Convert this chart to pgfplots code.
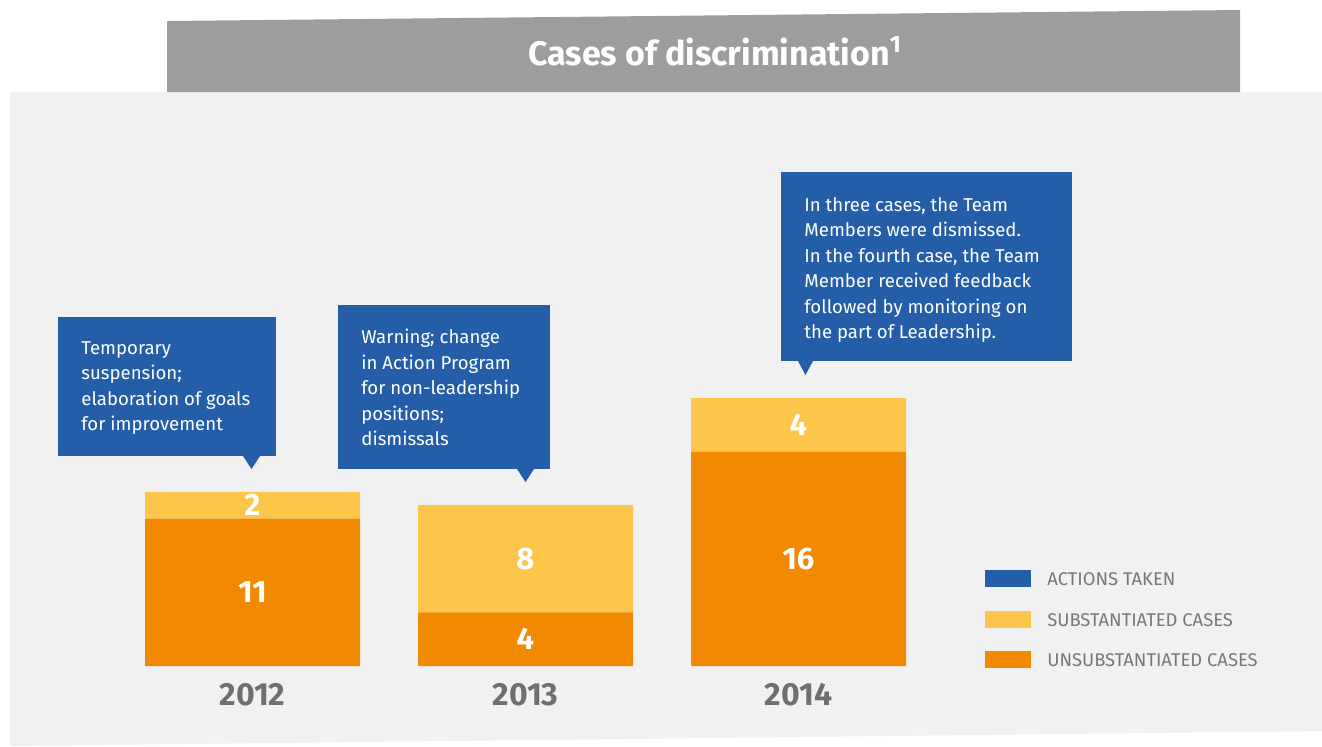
\documentclass[border=0pt]{standalone}
\usepackage{fontspec}
\setmainfont{Fira Sans}
\usepackage{pgfplots}
\pgfplotsset{compat=1.18}

\definecolor{actblue}{HTML}{245DA8}
\definecolor{subyel}{HTML}{FDC64A}
\definecolor{unsor}{HTML}{F18A00}
\definecolor{panel}{HTML}{F1F1F1}
\definecolor{titlegray}{HTML}{9D9D9B}
\definecolor{yeargray}{HTML}{6F6F6F}
\definecolor{leggray}{HTML}{787878}

\newcommand{\callfont}{\fontsize{9.3}{12.75}\selectfont}

\begin{document}
\begin{tikzpicture}[x=0.5pt,y=-0.5pt]
\useasboundingbox (0,0) rectangle (1322,746);
\fill[white] (0,0) rectangle (1322,746);
% panel and title bar
\fill[panel] (10,92) -- (1322,92) -- (1322,731) -- (10,746) -- cycle;
\fill[titlegray] (167,21) -- (1240,10) -- (1240,92) -- (167,92) -- cycle;
\node[text=white, font=\fontsize{17}{20}\selectfont\bfseries] at (715,51)
  {Cases of discrimination\textsuperscript{1}};

% callouts
\fill[actblue] (58,317) rectangle (276,456);
\fill[actblue] (243,456) -- (260,456) -- (251.5,469) -- cycle;
\node[anchor=north west, inner sep=0pt, align=left, text=white, font=\callfont] at (81,341)
  {Temporary\\suspension;\\elaboration of goals\\for improvement};

\fill[actblue] (338,305) rectangle (550,469);
\fill[actblue] (517,469) -- (534,469) -- (525.5,482) -- cycle;
\node[anchor=north west, inner sep=0pt, align=left, text=white, font=\callfont] at (361,329)
  {Warning; change\\in Action Program\\for non-leadership\\positions;\\dismissals};

\fill[actblue] (781,172) rectangle (1072,361);
\fill[actblue] (798,361) -- (813,361) -- (805.5,375) -- cycle;
\node[anchor=north west, inner sep=0pt, align=left, text=white, font=\callfont] at (804,197)
  {In three cases, the Team\\Members were dismissed.\\In the fourth case, the Team\\Member received feedback\\followed by monitoring on\\the part of Leadership.};

\begin{axis}[
  at={(58pt,-333pt)}, anchor=south west,
  scale only axis, width=409.5pt, height=167.5pt,
  xmin=-0.5, xmax=2.5, ymin=0, ymax=25,
  clip=false,
  stack plots=y,
  axis line style={draw=none}, tick style={draw=none},
  major tick length=0pt,
  ytick=\empty,
  xtick={0,1,2}, xticklabels={2012,2013,2014},
  x tick label style={font=\fontsize{16}{18}\selectfont\bfseries, text=yeargray,
    inner sep=0pt, yshift=-8.5pt},
  /pgf/number format/assume math mode=true,
  legend image code/.code={\fill[#1] (0pt,-4.25pt) rectangle (23pt,4.25pt);},
  legend cell align=left,
  legend style={at={(1.06105,0.28657)}, anchor=north west, draw=none, fill=none,
    inner sep=0pt, row sep=11.75pt,
    font=\fontsize{9.2}{11}\selectfont, text=leggray,
    nodes={inner sep=0pt, text height=6.6pt, text depth=0pt},
    /tikz/every odd column/.append style={column sep=8pt}},
  visualization depends on={\thisrow{v} \as \segh},
  nodes near coords,
  every node near coord/.append style={anchor=center, yshift=-\segh*3.35pt,
    text=white, font=\fontsize{15.5}{17}\selectfont\bfseries},
]
\addlegendimage{fill=actblue, draw=none}
\addlegendimage{fill=subyel, draw=none}
\addlegendimage{fill=unsor, draw=none}
\addplot[ybar, bar width=107.5pt, bar shift=0pt, fill=unsor, draw=none, forget plot,
  point meta=\thisrow{v}] table[x=x, y=v] {
x v
0 11
1 4
2 16
};
\addplot[ybar, bar width=107.5pt, bar shift=0pt, fill=subyel, draw=none, forget plot,
  point meta=\thisrow{v}] table[x=x, y=v] {
x v
0 2
1 8
2 4
};
\legend{ACTIONS TAKEN, SUBSTANTIATED CASES, UNSUBSTANTIATED CASES}
\end{axis}
\end{tikzpicture}
\end{document}
